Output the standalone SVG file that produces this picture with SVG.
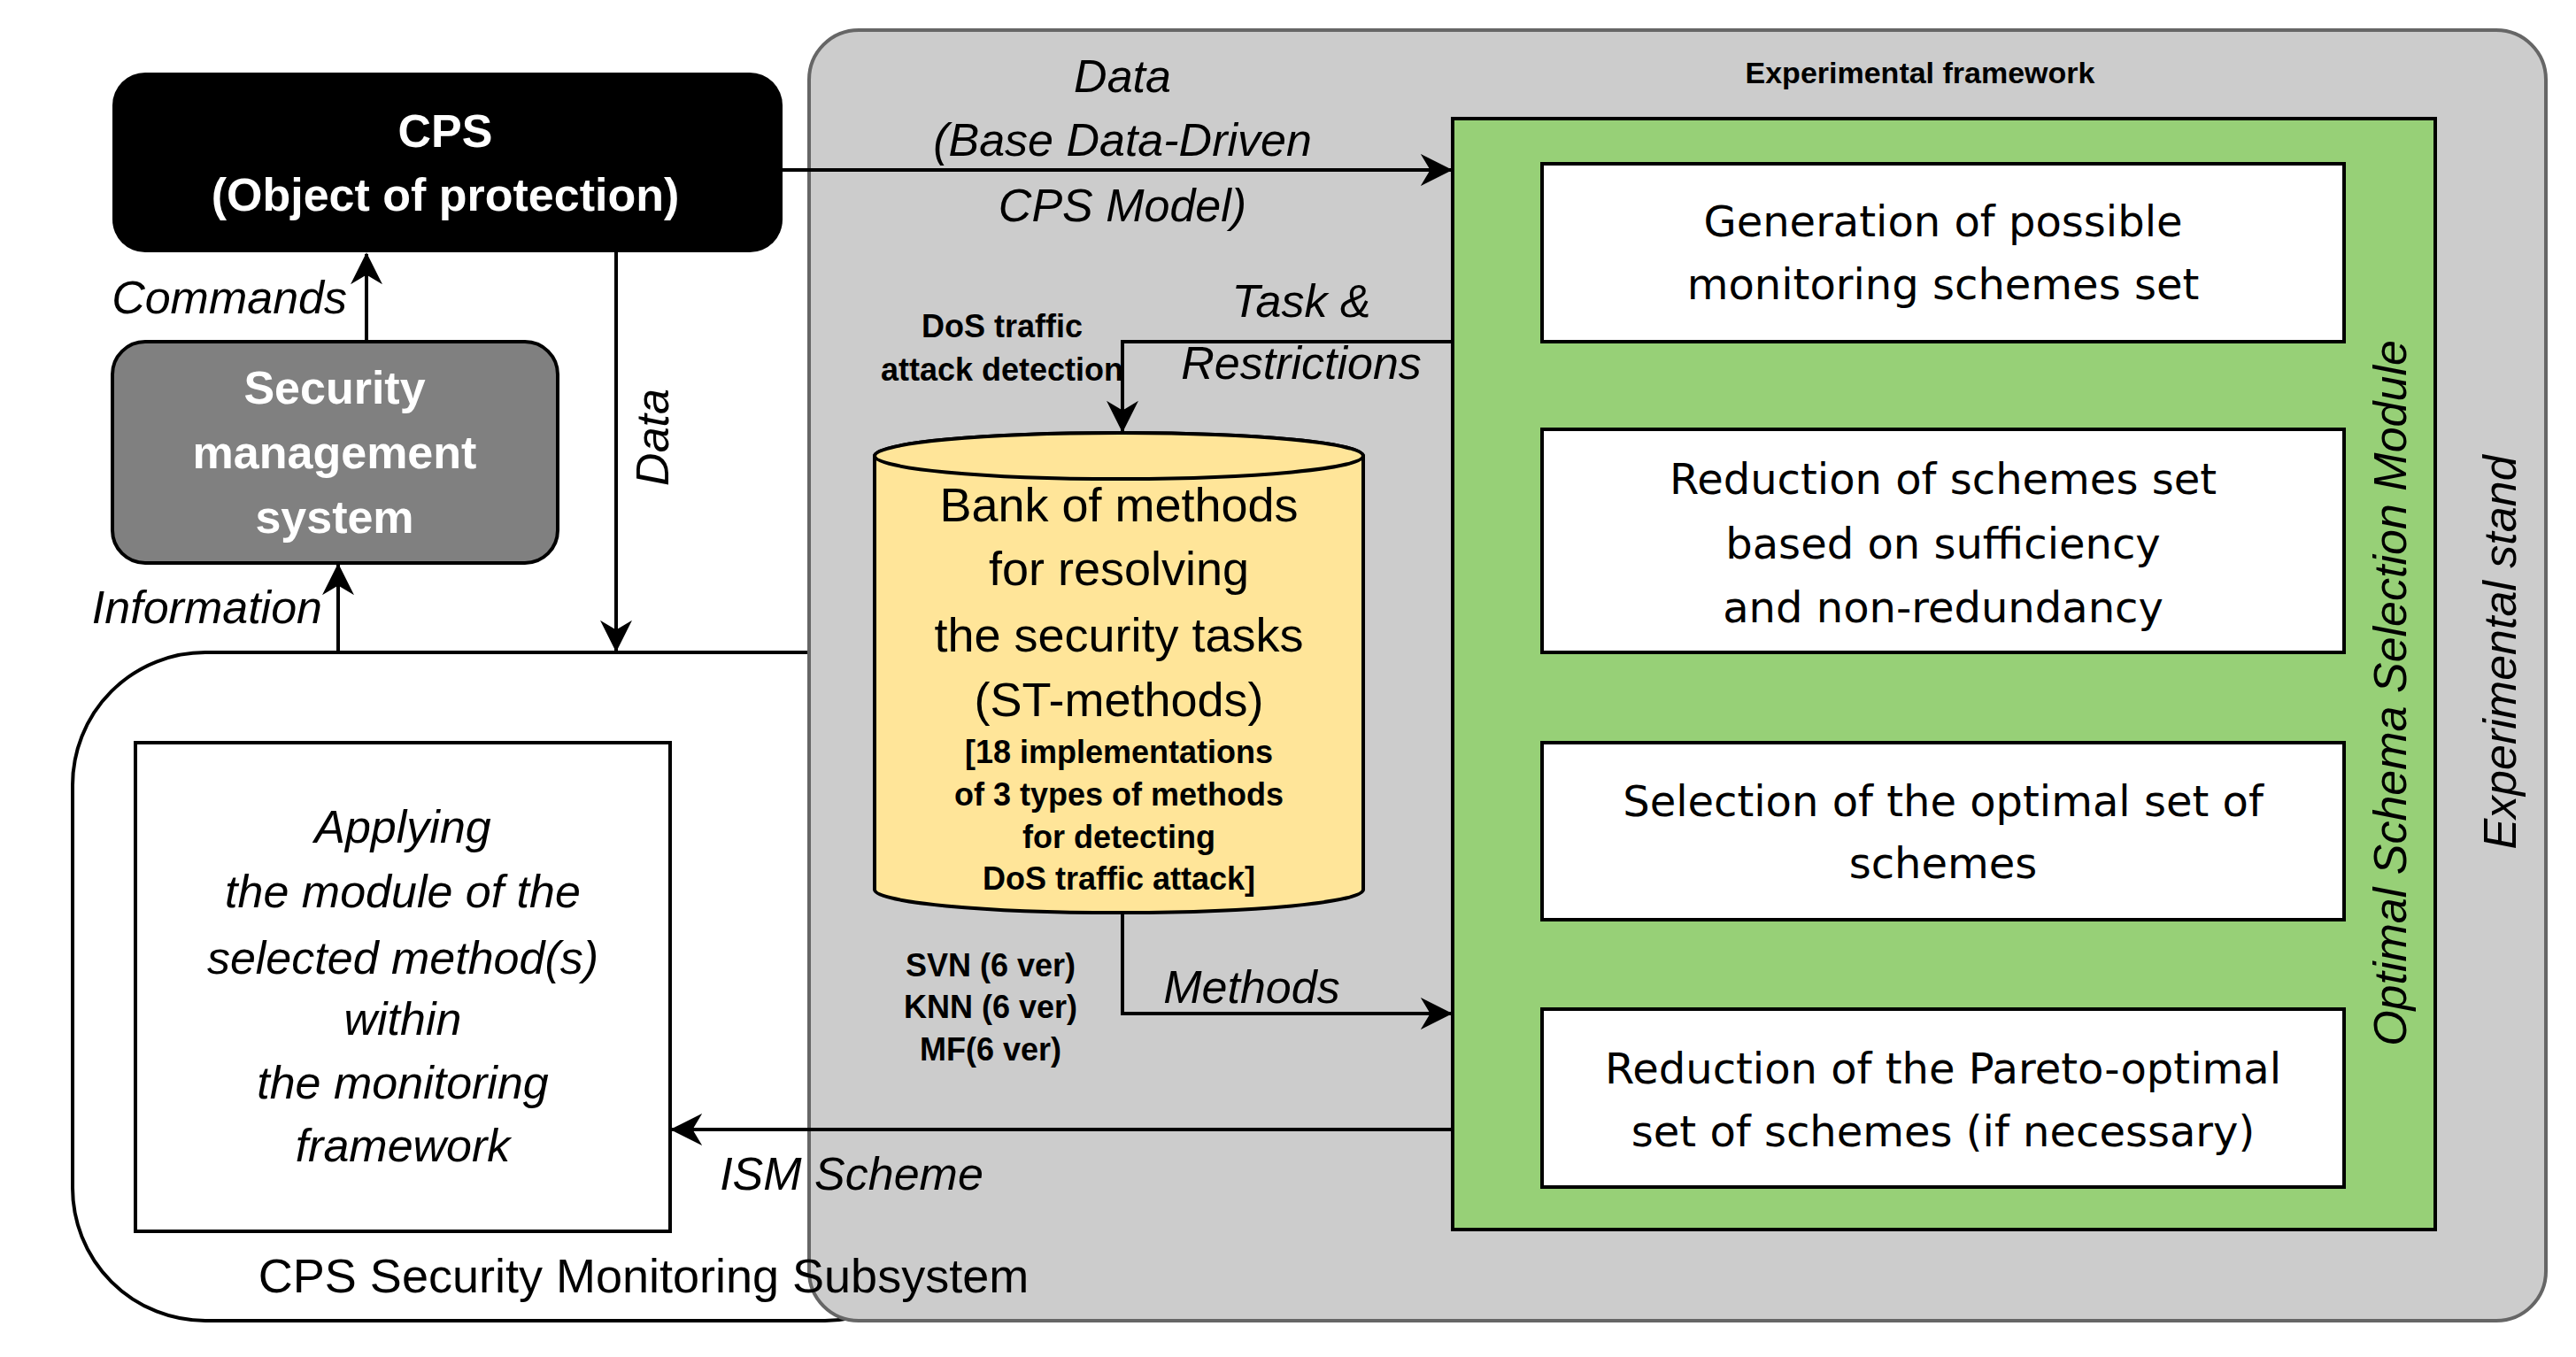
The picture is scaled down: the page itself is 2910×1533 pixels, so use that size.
<svg xmlns="http://www.w3.org/2000/svg" width="2910" height="1533" viewBox="0 0 2910 1533">
<defs>
<marker id="ah" viewBox="0 0 20 20" refX="19" refY="10" markerWidth="20" markerHeight="20" markerUnits="userSpaceOnUse" orient="auto"><path d="M0,0 L20,10 L0,20 L6,10 z" fill="#000"/></marker>
<marker id="ahb" viewBox="0 0 20 20" refX="19" refY="10" markerWidth="36" markerHeight="36" markerUnits="userSpaceOnUse" orient="auto"><path d="M0,0 L20,10 L0,20 L6,10 z" fill="#000"/></marker>
<style>
text{font-family:"Liberation Sans",Arial,sans-serif;text-anchor:middle;fill:#000}
.it{font-style:italic;font-size:52px}
.bw{font-weight:bold;fill:#fff;font-size:52px}
.sb{font-weight:bold;font-size:36px}
.cy{font-size:54px}
.bx{font-family:"DejaVu Sans",Verdana,sans-serif;font-size:48px}
.ln{fill:none;stroke:#000;stroke-width:4}
</style>
</defs>
<rect width="2910" height="1533" fill="#fff"/>
<g id="subsystem"><rect x="82" y="737" width="1000" height="755" rx="150" fill="#fff" stroke="#000" stroke-width="4"/></g>
<g id="stand"><rect x="914" y="34" width="1962" height="1458" rx="56" fill="#cccccc" stroke="#666" stroke-width="4"/>
<text x="2169" y="94" class="sb" style="font-size:34px">Experimental framework</text>
<text class="it" transform="translate(2842,737) rotate(-90)">Experimental stand</text></g>
<text x="727" y="1460" style="font-size:54px">CPS Security Monitoring Subsystem</text>
<g id="cps"><rect x="127" y="82" width="757" height="203" rx="37" fill="#000"/>
<text x="503" y="166" class="bw">CPS</text><text x="503" y="238" class="bw">(Object of protection)</text></g>
<g id="sms"><rect x="127" y="386" width="503" height="250" rx="37" fill="#808080" stroke="#000" stroke-width="4"/>
<text x="378" y="456" class="bw">Security</text><text x="378" y="529" class="bw">management</text><text x="378" y="602" class="bw">system</text></g>
<g id="applying"><rect x="153" y="839" width="604" height="552" fill="#fff" stroke="#000" stroke-width="4"/>
<text class="it" x="455" y="952">Applying</text><text class="it" x="455" y="1025">the module of the</text><text class="it" x="455" y="1100">selected method(s)</text><text class="it" x="455" y="1169">within</text><text class="it" x="455" y="1241">the monitoring</text><text class="it" x="455" y="1312">framework</text></g>
<g id="module"><rect x="1641" y="134" width="1110" height="1255" fill="#97d077" stroke="#000" stroke-width="4"/>
<text class="it" transform="translate(2718,783) rotate(-90)">Optimal Schema Selection Module</text></g>
<g id="box1"><rect x="1742" y="185" width="906" height="201" fill="#fff" stroke="#000" stroke-width="4"/>
<text class="bx" x="2195" y="267">Generation of possible</text><text class="bx" x="2195" y="338">monitoring schemes set</text></g>
<g id="box2"><rect x="1742" y="485" width="906" height="252" fill="#fff" stroke="#000" stroke-width="4"/>
<text class="bx" x="2195" y="558">Reduction of schemes set</text><text class="bx" x="2195" y="631">based on sufficiency</text><text class="bx" x="2195" y="703">and non-redundancy</text></g>
<g id="box3"><rect x="1742" y="839" width="906" height="200" fill="#fff" stroke="#000" stroke-width="4"/>
<text class="bx" x="2195" y="922">Selection of the optimal set of</text><text class="bx" x="2195" y="992">schemes</text></g>
<g id="box4"><rect x="1742" y="1140" width="906" height="201" fill="#fff" stroke="#000" stroke-width="4"/>
<text class="bx" x="2195" y="1224">Reduction of the Pareto-optimal</text><text class="bx" x="2195" y="1295">set of schemes (if necessary)</text></g>
<g id="bank"><path d="M988,515 L988,1005 A276,26 0 0 0 1540,1005 L1540,515 A276,26 0 0 0 988,515 z" fill="#ffe599" stroke="#000" stroke-width="4"/>
<ellipse cx="1264" cy="515" rx="276" ry="26" fill="#ffe599" stroke="#000" stroke-width="4"/>
<text class="cy" x="1264" y="589">Bank of methods</text><text class="cy" x="1264" y="661">for resolving</text><text class="cy" x="1264" y="736">the security tasks</text><text class="cy" x="1264" y="809">(ST-methods)</text>
<text class="sb" x="1264" y="862">[18 implementations</text><text class="sb" x="1264" y="910">of 3 types of methods</text><text class="sb" x="1264" y="958">for detecting</text><text class="sb" x="1264" y="1005">DoS traffic attack]</text></g>
<g id="connectors">
<path class="ln" d="M884,192 L1639,192" marker-end="url(#ahb)"/>
<path class="ln" d="M1641,386 L1268,386 L1268,487" marker-end="url(#ahb)"/>
<path class="ln" d="M1268,1031 L1268,1145 L1639,1145" marker-end="url(#ahb)"/>
<path class="ln" d="M1641,1276 L759,1276" marker-end="url(#ahb)"/>
<path class="ln" d="M414,386 L414,287" marker-end="url(#ahb)"/>
<path class="ln" d="M382,737 L382,638" marker-end="url(#ahb)"/>
<path class="ln" d="M696,285 L696,735" marker-end="url(#ahb)"/>
<text class="it" x="1268" y="104">Data</text><text class="it" x="1268" y="176">(Base Data-Driven</text><text class="it" x="1268" y="250">CPS Model)</text>
<text class="it" x="1470" y="358">Task &amp;</text><text class="it" x="1470" y="428">Restrictions</text>
<text class="sb" x="1132" y="381">DoS traffic</text><text class="sb" x="1132" y="430">attack detection</text>
<text class="it" x="1414" y="1133">Methods</text>
<text class="sb" x="1119" y="1103">SVN (6 ver)</text><text class="sb" x="1119" y="1150">KNN (6 ver)</text><text class="sb" x="1119" y="1198">MF(6 ver)</text>
<text class="it" x="962" y="1344">ISM Scheme</text>
<text class="it" x="392" y="354" style="text-anchor:end">Commands</text>
<text class="it" x="364" y="704" style="text-anchor:end">Information</text>
<text class="it" transform="translate(755,494) rotate(-90)">Data</text>
</g>
</svg>
